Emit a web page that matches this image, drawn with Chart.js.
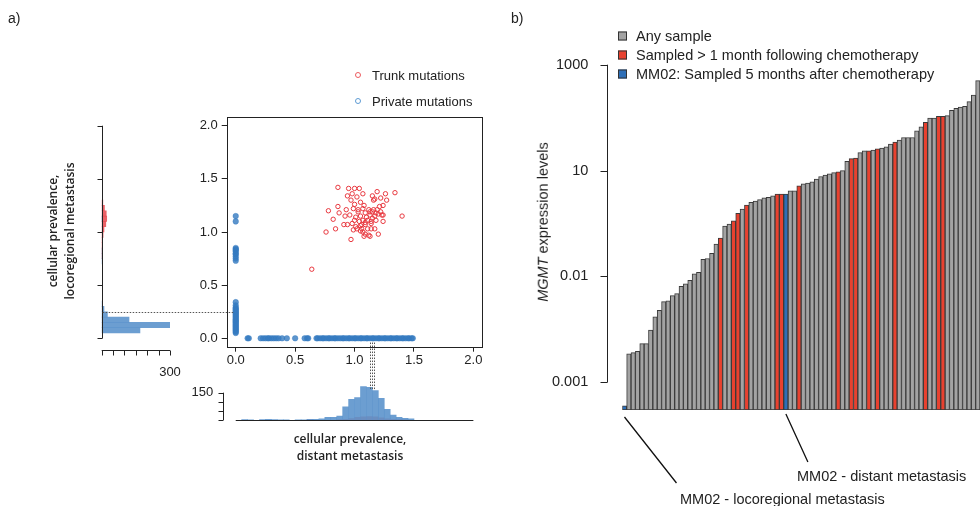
<!DOCTYPE html>
<html>
<head>
<meta charset="utf-8">
<script src="https://cdn.jsdelivr.net/npm/chart.js"></script>
<style>
body { margin: 0; background: #fff; }
#wrap { position: relative; width: 980px; height: 506px; overflow: hidden; font-family: "Liberation Sans", Arial, sans-serif; color: #222; }
canvas { position: absolute; left: 0; top: 0; }
.t { position: absolute; white-space: nowrap; line-height: 1; transform: translateY(-50%); }
.ttl { font-family: "Open Sans", sans-serif; font-weight: 600; font-size: 12px; line-height: 17px; text-align: center; position: absolute; white-space: nowrap; }
.circ { position: absolute; width: 6px; height: 6px; border-radius: 50%; box-sizing: border-box; border: 1.2px solid; transform: translate(-50%, -50%); }
.sq { position: absolute; width: 9px; height: 9px; box-sizing: border-box; border: 1px solid #333; transform: translateY(-50%); }
</style>
</head>
<body>
<div id="wrap">
  <canvas id="scatter" width="980" height="506"></canvas>
  <canvas id="histLoco" width="980" height="506"></canvas>
  <canvas id="histDist" width="980" height="506"></canvas>
  <canvas id="bars" width="980" height="506"></canvas>

  <div class="t" style="left:8px;top:18px;font-size:14px;">a)</div>
  <div class="t" style="left:511px;top:18px;font-size:14px;">b)</div>

  <!-- legend a -->
  <div class="circ" style="left:358px;top:75px;border-color:#ec5b5f;"></div>
  <div class="t" style="left:372px;top:75px;font-size:13px;">Trunk mutations</div>
  <div class="circ" style="left:358px;top:101px;border-color:#5e9bd3;"></div>
  <div class="t" style="left:372px;top:101px;font-size:13px;">Private mutations</div>

  <!-- axis titles a -->
  <div class="ttl" style="left:-39px;top:214px;width:200px;transform:rotate(-90deg);">cellular prevalence,<br>locoregional metastasis</div>
  <div class="ttl" style="left:250px;top:430px;width:200px;">cellular prevalence,<br>distant metastasis</div>

  <!-- legend b -->
  <div class="sq" style="left:618px;top:36px;background:#a3a3a3;"></div>
  <div class="t" style="left:636px;top:36px;font-size:14.5px;">Any sample</div>
  <div class="sq" style="left:618px;top:55px;background:#e8412f;"></div>
  <div class="t" style="left:636px;top:55px;font-size:14.5px;">Sampled &gt; 1 month following chemotherapy</div>
  <div class="sq" style="left:618px;top:74px;background:#2e6fb7;"></div>
  <div class="t" style="left:636px;top:74px;font-size:14.5px;">MM02: Sampled 5 months after chemotherapy</div>

  <div class="t" style="left:443px;top:222px;width:200px;text-align:center;font-size:14.5px;transform:translateY(-50%) rotate(-90deg);"><i>MGMT</i> expression levels</div>

  <div class="t" style="left:797px;top:476px;font-size:14.5px;">MM02 - distant metastasis</div>
  <div class="t" style="left:680px;top:499px;font-size:14.5px;">MM02 - locoregional metastasis</div>
</div>

<script>
// ---- panel a: scatter ----
const trunkX = [0.86,0.95,1.00,1.04,1.19,1.26,1.34,0.94,0.98,1.07,1.15,1.17,1.22,1.27,1.02,0.97,0.86,1.00,1.05,1.08,
  1.16,1.21,1.24,0.78,0.87,0.93,0.99,1.03,1.07,1.12,1.16,1.18,1.20,1.23,1.24,1.40,0.82,0.92,0.96,1.01,
  1.05,1.10,1.13,1.15,1.18,1.14,1.11,1.07,1.04,1.00,0.84,0.91,0.94,0.98,1.01,1.05,1.09,1.14,1.17,1.24,
  0.76,0.99,1.02,1.06,1.11,1.14,1.07,1.09,1.05,1.12,1.08,1.13,1.20,0.97,0.64,1.22,1.17,1.09,1.13,1.15,
  1.19,1.03,1.06,1.09];
const trunkY = [1.42,1.41,1.41,1.41,1.38,1.36,1.37,1.34,1.36,1.36,1.34,1.31,1.32,1.30,1.33,1.30,1.24,1.26,1.28,1.25,
  1.30,1.24,1.25,1.20,1.18,1.21,1.22,1.21,1.22,1.21,1.21,1.18,1.17,1.16,1.16,1.15,1.12,1.15,1.16,1.14,
  1.15,1.14,1.16,1.13,1.11,1.10,1.11,1.11,1.10,1.11,1.03,1.07,1.07,1.08,1.05,1.06,1.07,1.08,1.03,1.10,
  1.00,1.02,1.03,1.03,1.03,1.03,1.00,0.98,1.01,0.97,0.96,0.96,0.98,0.93,0.65,1.19,1.15,1.18,1.19,1.19,
  1.21,1.19,1.07,1.09];
// private mutations absent from distant metastasis (x = 0)
const privateLocoY = [1.15,1.10,0.85,0.84,0.83,0.82,0.80,0.79,0.77,0.75,0.73,0.34,0.31,0.29,0.28,0.27,0.26,0.25,0.24,
  0.23,0.22,0.21,0.20,0.19,0.18,0.17,0.16,0.15,0.14,0.13,0.12,0.11,0.10,0.09,0.08,0.07,0.06,0.05];
// private mutations absent from locoregional metastasis (y = 0)
const privateDistX = [0.10,0.11,0.21,0.23,0.25,0.27,0.28,0.30,0.32,0.34,0.36,0.39,0.43,0.50,0.58,0.60,0.61,0.68,0.69,
  0.71,0.73,0.74,0.76,0.78,0.79,0.81,0.83,0.84,0.86,0.88,0.90,0.91,0.93,0.95,0.96,0.98,1.00,1.01,1.03,
  1.05,1.06,1.08,1.10,1.11,1.13,1.15,1.16,1.18,1.20,1.21,1.23,1.25,1.26,1.28,1.30,1.31,1.33,1.35,1.36,
  1.38,1.40,1.41,1.43,1.45,1.46,1.48,1.49];
const prevTicks = [0, 0.5, 1.0, 1.5, 2.0];
const meanLinesX = [1.13, 1.145, 1.16];
const meanLineY = 0.25;

// marginal histograms (bin centres, width 0.05)
const distBinsPriv = [0.075,0.125,0.225,0.275,0.325,0.375,0.425,0.525,0.575,0.625,0.675,0.725,0.775,0.825,0.875,
  0.925,0.975,1.025,1.075,1.125,1.175,1.225,1.275,1.325,1.375,1.425,1.475];
const distCountsPriv = [2,1,2,3,2,1,1,1,1,3,4,6,15,15,22,73,113,123,183,179,161,119,59,27,15,9,7];
const distBinsTrunk = [0.625,0.875,0.925,0.975,1.025,1.075,1.125,1.175,1.225,1.275,1.325,1.375,1.425];
const distCountsTrunk = [1,2,3,8,14,18,19,17,12,6,3,2,1];
const locoBinsPriv = [0.075,0.125,0.175,0.225,0.275,0.325,0.725,0.775,0.825,1.125];
const locoCountsPriv = [168,300,120,25,10,3,2,3,4,1];
const locoBinsTrunk = [0.775,0.825,0.875,0.925,0.975,1.025,1.075,1.125,1.175,1.225,1.275];
const locoCountsTrunk = [1,2,3,4,6,10,18,22,20,12,5];
const locoCountTicks = [0, 50, 100, 150, 200, 250, 300];
const distCountTicks = [0, 50, 100, 150];

// ---- panel b: MGMT expression ----
const mgmtValues = [0.00036,0.00345,0.00365,0.00387,0.00539,0.00539,0.00972,0.0173,0.0230,0.0335,
  0.0345,0.0434,0.0473,0.0649,0.0729,0.0841,0.112,0.119,0.211,0.218,
  0.274,0.410,0.531,0.891,0.972,1.12,1.56,1.88,2.24,2.51,
  2.66,2.82,3.07,3.12,3.35,3.60,3.60,3.60,4.16,4.16,
  5.16,5.62,5.79,6.13,6.88,7.72,8.18,8.66,9.17,9.44,
  10.0,15.0,16.8,17.3,21.8,23.7,23.7,24.4,25.8,26.6,
  28.2,31.6,34.5,37.6,42.2,42.2,42.2,56.2,66.8,81.8,
  98.6,98.6,106,106,109,137,150,158,163,200,266,501];
const chemoBars = [23,26,27,29,36,37,41,50,53,54,57,59,63,70,73,74]; // 1-based
const mm02Bars = [1,38];
const exprTicks = [0.001, 0.1, 10, 1000];
const exprTickLabels = ['0.001', '0.01', '10', '1000'];

Chart.defaults.font.family = '"Liberation Sans", Arial, sans-serif';
Chart.defaults.color = '#222';
Chart.defaults.animation = false;

const noLegend = { legend: { display: false }, tooltip: { enabled: false } };
const fixTicks = vals => s => { s.ticks = vals.map(v => ({ value: v })); };

// scatter: full box around plot
const boxPlugin = {
    id: 'box',
    afterDraw(chart) {
        const a = chart.chartArea, ctx = chart.ctx;
        ctx.save();
        ctx.strokeStyle = '#222';
        ctx.lineWidth = 1;
        ctx.strokeRect(Math.round(a.left) + 0.5, Math.round(a.top) + 0.5, Math.round(a.width), Math.round(a.height));
        ctx.restore();
    }
};

const scatterChart = new Chart(document.getElementById('scatter'), {
    type: 'scatter',
    data: {
        datasets: [
            {
                data: privateLocoY.map(y => ({ x: 0, y: y })).concat(privateDistX.map(x => ({ x: x, y: 0 }))),
                backgroundColor: 'rgba(52,122,192,0.8)',
                borderColor: 'rgba(52,122,192,0.8)',
                pointRadius: 2.8,
                borderWidth: 0.5
            },
            {
                data: trunkX.map((x, i) => ({ x: x, y: trunkY[i] })),
                backgroundColor: 'rgba(0,0,0,0)',
                borderColor: '#e8383f',
                pointRadius: 2.2,
                borderWidth: 1
            }
        ]
    },
    plugins: [boxPlugin],
    options: {
        responsive: false,
        devicePixelRatio: 1,
        layout: { padding: { left: 186.7, top: 116.7, right: 498.3, bottom: 129.3 } },
        plugins: noLegend,
        scales: {
            x: {
                type: 'linear', min: -0.076, max: 2.07,
                afterBuildTicks: fixTicks(prevTicks),
                afterFit: s => { s.height = 30; },
                border: { display: false },
                grid: { drawOnChartArea: false, drawTicks: true, tickLength: 5, color: '#222' },
                ticks: { font: { size: 13 }, padding: 1, callback: v => v.toFixed(1) }
            },
            y: {
                type: 'linear', min: -0.079, max: 2.085,
                afterBuildTicks: fixTicks(prevTicks),
                afterFit: s => { s.width = 40; },
                border: { display: false },
                grid: { drawOnChartArea: false, drawTicks: true, tickLength: 5, color: '#222' },
                ticks: { font: { size: 13 }, padding: 4, callback: v => v.toFixed(1) }
            }
        }
    }
});

// left marginal histogram (locoregional)
const locoChart = new Chart(document.getElementById('histLoco'), {
    type: 'bar',
    data: {
        datasets: [
            { data: locoBinsPriv.map((b, i) => ({ y: b, x: locoCountsPriv[i] })), backgroundColor: 'rgba(92,148,204,0.9)' },
            { data: locoBinsTrunk.map((b, i) => ({ y: b, x: locoCountsTrunk[i] })), backgroundColor: 'rgba(232,70,76,0.85)' }
        ]
    },
    plugins: [{
        id: 'locoAxes',
        afterDraw(chart) {
            const ctx = chart.ctx, xs = chart.scales.x, ys = chart.scales.y;
            const ax = Math.round(chart.chartArea.left) + 0.5;
            const by = Math.round(chart.chartArea.bottom) + 3.5;
            ctx.save();
            ctx.strokeStyle = '#222';
            ctx.lineWidth = 1;
            ctx.beginPath();
            ctx.moveTo(ax, ys.getPixelForValue(0));
            ctx.lineTo(ax, ys.getPixelForValue(2));
            prevTicks.forEach(v => {
                const y = Math.round(ys.getPixelForValue(v)) + 0.5;
                ctx.moveTo(ax - 5, y); ctx.lineTo(ax, y);
            });
            ctx.moveTo(xs.getPixelForValue(0), by);
            ctx.lineTo(xs.getPixelForValue(300), by);
            locoCountTicks.forEach(v => {
                const x = Math.round(xs.getPixelForValue(v)) + 0.5;
                ctx.moveTo(x, by); ctx.lineTo(x, by + 5);
            });
            ctx.stroke();
            ctx.restore();
        }
    }],
    options: {
        indexAxis: 'y',
        responsive: false,
        devicePixelRatio: 1,
        layout: { padding: { left: 91.7, top: 116.7, right: 810, bottom: 119.3 } },
        plugins: noLegend,
        datasets: { bar: { grouped: false, barPercentage: 1, categoryPercentage: 1 } },
        scales: {
            x: {
                type: 'linear', min: 0, max: 300,
                afterBuildTicks: fixTicks(locoCountTicks),
                afterFit: s => { s.height = 40; },
                border: { display: false },
                grid: { display: false },
                ticks: { font: { size: 13 }, padding: 10, autoSkip: false, maxRotation: 0, callback: v => v === 300 ? '300' : '' }
            },
            y: {
                type: 'linear', min: -0.079, max: 2.085, offset: false,
                afterFit: s => { s.width = 10; },
                border: { display: false },
                grid: { display: false },
                ticks: { display: false }
            }
        }
    }
});

// bottom marginal histogram (distant) + dotted guide lines
const distChart = new Chart(document.getElementById('histDist'), {
    type: 'bar',
    data: {
        datasets: [
            { data: distBinsPriv.map((b, i) => ({ x: b, y: distCountsPriv[i] })), backgroundColor: 'rgba(92,148,204,0.9)' },
            { data: distBinsTrunk.map((b, i) => ({ x: b, y: distCountsTrunk[i] })), backgroundColor: 'rgba(232,70,76,0.85)' }
        ]
    },
    plugins: [{
        id: 'distAxes',
        afterDraw(chart) {
            const ctx = chart.ctx, xs = chart.scales.x, ys = chart.scales.y;
            const ax = Math.round(chart.chartArea.left) - 3.5;
            const by = Math.round(ys.getPixelForValue(0)) + 0.5;
            ctx.save();
            ctx.strokeStyle = '#222';
            ctx.lineWidth = 1;
            ctx.beginPath();
            ctx.moveTo(ax, ys.getPixelForValue(0));
            ctx.lineTo(ax, ys.getPixelForValue(150));
            distCountTicks.forEach(v => {
                const y = Math.round(ys.getPixelForValue(v)) + 0.5;
                ctx.moveTo(ax - 5, y); ctx.lineTo(ax, y);
            });
            ctx.moveTo(xs.getPixelForValue(0), by);
            ctx.lineTo(xs.getPixelForValue(2), by);
            ctx.stroke();

            // dotted guides
            ctx.strokeStyle = '#555';
            ctx.setLineDash([1.5, 1.5]);
            ctx.beginPath();
            const top = scatterChart.scales.y.getPixelForValue(-0.04);
            const bot = ys.getPixelForValue(165);
            meanLinesX.forEach(v => {
                const x = Math.round(xs.getPixelForValue(v)) + 0.5;
                ctx.moveTo(x, top); ctx.lineTo(x, bot);
            });
            const hy = Math.round(scatterChart.scales.y.getPixelForValue(meanLineY)) + 0.5;
            ctx.moveTo(locoChart.scales.x.getPixelForValue(0) + 1, hy);
            ctx.lineTo(scatterChart.scales.x.getPixelForValue(-0.02), hy);
            ctx.stroke();
            ctx.restore();
        }
    }],
    options: {
        responsive: false,
        devicePixelRatio: 1,
        layout: { padding: { left: 176.7, top: 385.4, right: 498.3, bottom: 86 } },
        plugins: noLegend,
        datasets: { bar: { grouped: false, barPercentage: 1, categoryPercentage: 1 } },
        scales: {
            x: { type: 'linear', min: -0.076, max: 2.07, offset: false, display: false },
            y: {
                type: 'linear', min: 0, max: 190,
                afterBuildTicks: fixTicks(distCountTicks),
                afterFit: s => { s.width = 50; },
                border: { display: false },
                grid: { display: false },
                ticks: { font: { size: 13 }, padding: 5.5, autoSkip: false, callback: v => v === 150 ? '150' : '' }
            }
        }
    }
});

// panel b bars
const barColors = mgmtValues.map((v, i) =>
    mm02Bars.includes(i + 1) ? '#2e6fb7' : chemoBars.includes(i + 1) ? '#e8412f' : '#a3a3a3');

const barChart = new Chart(document.getElementById('bars'), {
    type: 'bar',
    data: {
        labels: mgmtValues.map((v, i) => 'S' + (i + 1)),
        datasets: [{
            data: mgmtValues,
            backgroundColor: barColors,
            borderColor: '#3a3a3a',
            borderWidth: 1,
            borderSkipped: false,
            barPercentage: 1,
            categoryPercentage: 1
        }]
    },
    plugins: [{
        id: 'exprAxis',
        afterDraw(chart) {
            const ctx = chart.ctx, ys = chart.scales.y, xs = chart.scales.x;
            const ax = Math.round(chart.chartArea.left) - 14.5;
            const base = chart.chartArea.bottom;
            ctx.save();
            ctx.strokeStyle = '#222';
            ctx.lineWidth = 1;
            ctx.beginPath();
            ctx.moveTo(ax, ys.getPixelForValue(1000));
            ctx.lineTo(ax, ys.getPixelForValue(0.001));
            exprTicks.forEach(v => {
                const y = Math.round(ys.getPixelForValue(v)) + 0.5;
                ctx.moveTo(ax - 7, y); ctx.lineTo(ax, y);
            });
            ctx.stroke();
            // leader lines to the two MM02 samples
            ctx.strokeStyle = '#111';
            ctx.lineWidth = 1.3;
            ctx.beginPath();
            const x0 = xs.getPixelForValue(mm02Bars[0] - 1);
            ctx.moveTo(x0, base + 7); ctx.lineTo(x0 + 52, base + 73);
            const x1 = xs.getPixelForValue(mm02Bars[1] - 1);
            ctx.moveTo(x1, base + 4); ctx.lineTo(x1 + 22, base + 52);
            ctx.stroke();
            ctx.restore();
        }
    }],
    options: {
        responsive: false,
        devicePixelRatio: 1,
        layout: { padding: { left: 542.3, top: 64.7, right: 0, bottom: 96 } },
        plugins: noLegend,
        scales: {
            x: { display: false },
            y: {
                type: 'logarithmic', min: 0.000335, max: 1000,
                afterBuildTicks: fixTicks(exprTicks),
                afterFit: s => { s.width = 80; },
                border: { display: false },
                grid: { display: false },
                ticks: { font: { size: 14.5 }, padding: 26, autoSkip: false, callback: (v, i) => exprTickLabels[i] }
            }
        }
    }
});
</script>
</body>
</html>
